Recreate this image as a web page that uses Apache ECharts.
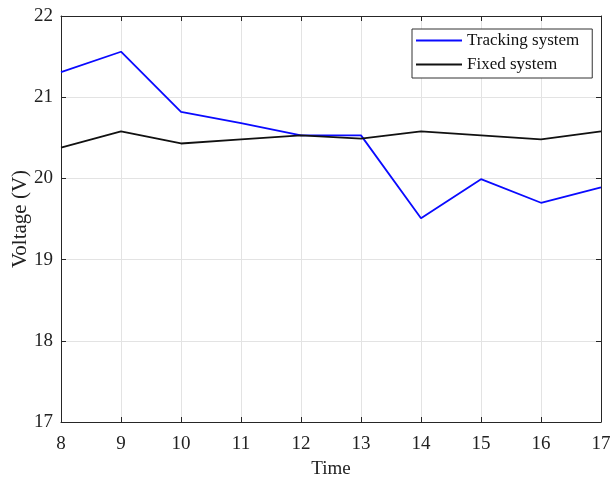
<!DOCTYPE html>
<html>
<head>
<meta charset="utf-8">
<script src="https://cdn.jsdelivr.net/npm/echarts@6/dist/echarts.min.js"></script>
<style>
  html, body { margin: 0; padding: 0; background: #fff; }
  #chart { width: 614px; height: 481px; }
</style>
</head>
<body>
<div id="chart"></div>
<script>
// Hourly voltage readings for the two panel configurations
const hours = [8, 9, 10, 11, 12, 13, 14, 15, 16, 17];
const trackingVoltage = [21.31, 21.56, 20.82, 20.68, 20.53, 20.53, 19.51, 19.99, 19.70, 19.89];
const fixedVoltage = [20.38, 20.58, 20.43, 20.48, 20.53, 20.49, 20.58, 20.53, 20.48, 20.58];
const yTicks = [17, 18, 19, 20, 21, 22];

const font = 'Liberation Serif, Times New Roman, serif';
const axisColor = '#262626';
const gridColor = '#e3e3e3';

const pairs = (xs, ys) => xs.map((x, i) => [x, ys[i]]);

const baseX = {
  type: 'value', min: hours[0], max: hours[hours.length - 1], interval: 1,
  axisLine: { show: true, lineStyle: { color: axisColor, width: 1 } },
  axisTick: { show: true, inside: true, length: 5, lineStyle: { color: axisColor } }
};
const baseY = {
  type: 'value', min: yTicks[0], max: yTicks[yTicks.length - 1], interval: 1,
  axisLine: { show: true, lineStyle: { color: axisColor, width: 1 } },
  axisTick: { show: true, inside: true, length: 5, lineStyle: { color: axisColor } }
};

const chart = echarts.init(document.getElementById('chart'));
chart.setOption({
  animation: false,
  backgroundColor: '#fff',
  grid: { left: 61, right: 13, top: 16, bottom: 59, containLabel: false, outerBoundsMode: 'none' },
  legend: {
    orient: 'vertical',
    left: 412, top: 29,
    padding: [3, 13, 5, 4],
    itemGap: 7,
    itemWidth: 46, itemHeight: 2,
    borderColor: '#333', borderWidth: 1,
    backgroundColor: '#fff',
    textStyle: { fontFamily: font, fontSize: 17, lineHeight: 17, color: '#111' },
    data: [
      { name: 'Tracking system', icon: 'rect' },
      { name: 'Fixed system', icon: 'rect' }
    ]
  },
  xAxis: [
    Object.assign({}, baseX, {
      position: 'bottom',
      name: 'Time', nameLocation: 'middle', nameGap: 38,
      nameTextStyle: { fontFamily: font, fontSize: 19, color: '#222' },
      axisLabel: { fontFamily: font, fontSize: 19, color: '#222', margin: 13 },
      splitLine: { show: true, lineStyle: { color: gridColor, width: 1 } }
    }),
    Object.assign({}, baseX, {
      position: 'top',
      axisLabel: { show: false },
      splitLine: { show: false }
    })
  ],
  yAxis: [
    Object.assign({}, baseY, {
      position: 'left',
      name: 'Voltage (V)', nameLocation: 'middle', nameGap: 30, nameMoveOverlap: false,
      nameTextStyle: { fontFamily: font, fontSize: 21, color: '#222' },
      axisLabel: { fontFamily: font, fontSize: 19, color: '#222', margin: 8 },
      splitLine: { show: true, lineStyle: { color: gridColor, width: 1 } }
    }),
    Object.assign({}, baseY, {
      position: 'right',
      axisLabel: { show: false },
      splitLine: { show: false }
    })
  ],
  series: [
    {
      name: 'Tracking system', type: 'line',
      data: pairs(hours, trackingVoltage),
      showSymbol: false, symbol: 'none',
      lineStyle: { color: '#0a0aff', width: 1.8 },
      itemStyle: { color: '#0a0aff' }
    },
    {
      name: 'Fixed system', type: 'line',
      data: pairs(hours, fixedVoltage),
      showSymbol: false, symbol: 'none',
      lineStyle: { color: '#111', width: 1.8 },
      itemStyle: { color: '#111' }
    }
  ]
});
</script>
</body>
</html>
